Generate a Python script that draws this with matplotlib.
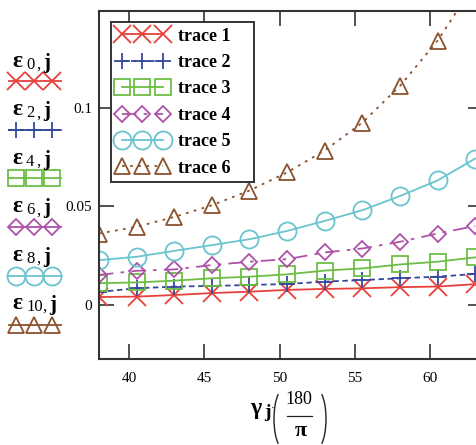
import numpy as np
import matplotlib
matplotlib.use("Agg")
import matplotlib.pyplot as plt
from matplotlib.lines import Line2D
from matplotlib.patches import Arc

plt.rcParams["font.family"] = ["Liberation Serif", "DejaVu Serif"]

# angle in degrees
gamma_deg = [38.0, 40.5, 43.0, 45.5, 48.0, 50.5, 53.0, 55.5, 58.0, 60.5, 63.0]

eps_0 = [0.0040, 0.0042, 0.0050, 0.0060, 0.0067, 0.0076, 0.0081, 0.0084, 0.0090, 0.0093, 0.0105]
eps_2 = [0.0066, 0.0084, 0.0093, 0.0096, 0.0101, 0.0106, 0.0118, 0.0126, 0.0135, 0.0143, 0.0157]
eps_4 = [0.0110, 0.0114, 0.0123, 0.0135, 0.0143, 0.0155, 0.0174, 0.0185, 0.0205, 0.0219, 0.0241]
eps_6 = [0.0152, 0.0173, 0.0180, 0.0202, 0.0219, 0.0232, 0.0266, 0.0286, 0.0320, 0.0362, 0.0400]
eps_8 = [0.0227, 0.0244, 0.0274, 0.0303, 0.0333, 0.0375, 0.0426, 0.0480, 0.0552, 0.0631, 0.0742]
eps_10 = [0.0362, 0.0396, 0.0446, 0.0505, 0.0580, 0.0672, 0.0783, 0.0924, 0.1110, 0.1340, 0.1630]

trace_names = ["trace 1", "trace 2", "trace 3", "trace 4", "trace 5", "trace 6"]
eps_index = ["0", "2", "4", "6", "8", "10"]

series = [eps_0, eps_2, eps_4, eps_6, eps_8, eps_10]
styles = [
    dict(color="#e8403a", marker="x", ms=13, ls="-"),
    dict(color="#34499c", marker="+", ms=12, ls=(0, (3, 2))),
    dict(color="#6cbd45", marker="s", ms=11, ls="-"),
    dict(color="#ae52a8", marker="D", ms=8, ls=(0, (8, 4, 2, 4))),
    dict(color="#6ac4cf", marker="o", ms=13, ls="-"),
    dict(color="#8a532e", marker="^", ms=12, ls=(0, (1.5, 3))),
]

W, H = 476, 445
fig = plt.figure(figsize=(W / 100, H / 100), dpi=100)
ax = fig.add_axes([0.208, 0.193, 0.806, 0.782])

handles = []
for y, st, name in zip(series, styles, trace_names):
    h, = ax.plot(gamma_deg, y, color=st["color"], ls=st["ls"], lw=1.3,
                 marker=st["marker"], ms=st["ms"], mfc="none",
                 mec=st["color"], mew=1.3, label=name + "    ")
    handles.append(h)

ax.set_xlim(38, 63.5)
ax.set_ylim(-0.0275, 0.149)
ax.set_xticks([40, 45, 50, 55, 60])
ax.set_yticks([0, 0.05, 0.1])
ax.set_yticklabels(["0", "0.05", "0.1"])
ax.tick_params(direction="in", length=11, width=1.2, top=True, right=True,
               labelsize=11, color="#333333")
ax.tick_params(axis="x", pad=9)
ax.tick_params(axis="y", pad=5)
for sp in ax.spines.values():
    sp.set_linewidth(1.5)
    sp.set_color("#333333")

leg = ax.legend(handles=handles, loc="upper left", bbox_to_anchor=(0.031, 0.968),
                borderaxespad=0, numpoints=3, handlelength=2.9, fancybox=False,
                framealpha=1, edgecolor="#333333", borderpad=0.3,
                labelspacing=0.52, handletextpad=0.5,
                prop={"weight": "bold", "size": 13})
leg.get_frame().set_linewidth(1.4)


def fx(px):
    return px / W


def fy(py):
    return 1 - py / H


# x axis label: gamma_j * (180 / pi), set piece by piece
fig.text(fx(250), fy(414), "γ", fontsize=17, weight="bold", va="baseline")
fig.text(fx(264), fy(417), "j", fontsize=14, weight="bold", va="baseline")
fig.text(fx(271), fy(411), "·", fontsize=8, va="baseline")
fig.text(fx(299), fy(399), "180", fontsize=13, ha="center", va="center")
fig.text(fx(301), fy(431), "π", fontsize=16, weight="bold", ha="center", va="center")
fig.add_artist(Line2D([fx(287), fx(312)], [fy(416), fy(416)],
                      transform=fig.transFigure, color="#222222", lw=0.9))
fig.add_artist(Arc((fx(283), fy(419)), 18 / W, 58 / H, theta1=100, theta2=260,
                   transform=fig.transFigure, color="#222222", lw=1.0))
fig.add_artist(Arc((fx(317), fy(419)), 18 / W, 58 / H, theta1=-80, theta2=80,
                   transform=fig.transFigure, color="#222222", lw=1.0))

# variable key on the left side: epsilon label above its marker sample
for i, (idx, st) in enumerate(zip(eps_index, styles)):
    yb = 67 + i * 48.4
    ymk = fy(81 + i * 48.7)
    extra = 6 * (len(idx) - 1)
    fig.text(fx(12), fy(yb), "ε", fontsize=17, weight="bold", va="baseline")
    fig.text(fx(26), fy(yb + 2), idx, fontsize=12, va="baseline")
    fig.text(fx(36 + extra), fy(yb + 2), ",", fontsize=12, va="baseline")
    fig.text(fx(43 + extra), fy(yb + 1), "j", fontsize=15, weight="bold", va="baseline")
    xs = [fx(16), fx(34), fx(52)]
    fig.add_artist(Line2D(xs, [ymk] * 3, transform=fig.transFigure,
                          color=st["color"], lw=0, marker=st["marker"],
                          ms=st["ms"], mfc="none", mec=st["color"], mew=1.3))
    fig.add_artist(Line2D([fx(9), fx(61)], [ymk, ymk], transform=fig.transFigure,
                          color=st["color"], lw=1.3))

fig.savefig("out.png", dpi=100)
